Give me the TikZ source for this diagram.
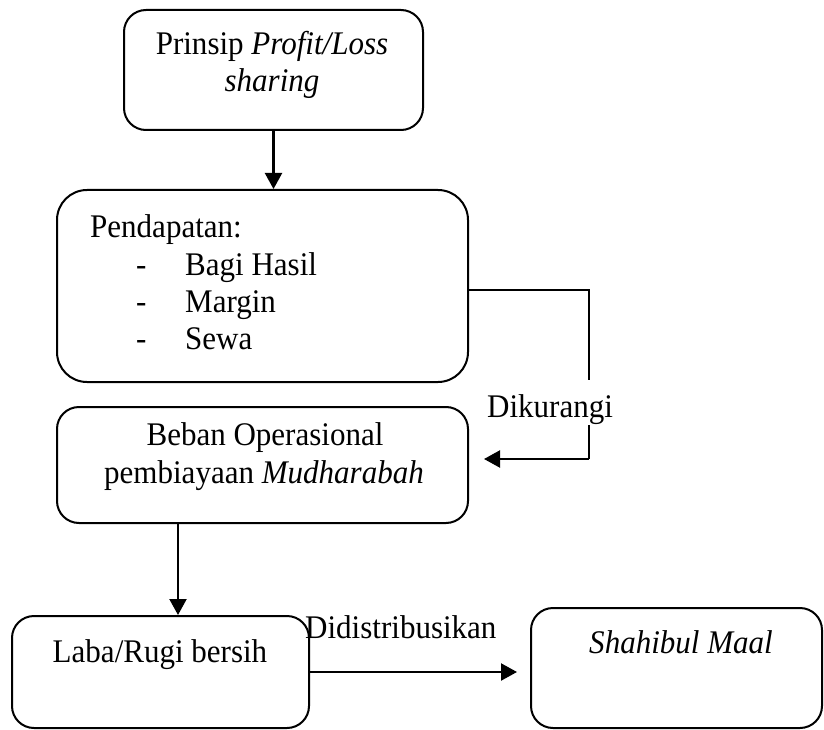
\documentclass[tikz,border=0pt]{standalone}
\usepackage{fontspec}
\setmainfont{Liberation Serif}[FakeStretch=0.94]
\usetikzlibrary{arrows.meta}
\begin{document}
\begin{tikzpicture}[x=1pt,y=-1pt,
  box/.style={draw, line width=2pt, rounded corners=22pt, inner sep=0pt},
  txt/.style={anchor=base, inner sep=0pt, font=\fontsize{33}{38}\selectfont},
  ltxt/.style={txt, anchor=base west},
  arr/.style={line width=2.2pt, -{Triangle[length=16pt,width=17pt]}},
  link/.style={line width=1.4pt}]
\useasboundingbox (0,0) rectangle (824,730);

% boxes
\node[box, minimum width=299pt, minimum height=120pt] (A) at (273.5,70) {};
\node[box, rounded corners=30pt, minimum width=411pt, minimum height=192pt] (B) at (262.5,286) {};
\node[box, minimum width=411pt, minimum height=116pt] (C) at (262.5,465) {};
\node[box, minimum width=297pt, minimum height=112pt] (D) at (160.5,672) {};
\node[box, minimum width=291pt, minimum height=120pt] (E) at (676.5,668) {};

% box texts
\node[txt] (a1) at (272,55) {Prinsip \textit{Profit/Loss}};
\node[txt] (a2) at (272,92) {\textit{sharing}};

\node[ltxt] (b0) at (90,237) {Pendapatan:};
\node[ltxt] (b1d) at (136,275) {-};
\node[ltxt] (b1) at (185,275) {Bagi Hasil};
\node[ltxt] (b2d) at (136,312) {-};
\node[ltxt] (b2) at (185,312) {Margin};
\node[ltxt] (b3d) at (136,349) {-};
\node[ltxt] (b3) at (185,349) {Sewa};

\node[txt] (c1) at (265,445) {Beban Operasional};
\node[txt] (c2) at (264,483) {pembiayaan \textit{Mudharabah}};

\node[txt] (d1) at (160,662) {Laba/Rugi bersih};
\node[txt] (e1) at (681,653) {\textit{Shahibul Maal}};

% connector labels
\node[ltxt] (kl) at (487,417) {Dikurangi};
\node[ltxt] (dl) at (305,638) {Didistribusikan};

% main flow
\draw[arr] (A.south) -- (A.south |- B.north);
\coordinate (cx) at ([xshift=-84.5pt]C.south);
\draw[arr] (cx) -- (cx |- D.north);
\coordinate (etip) at ([xshift=-13pt]E.west);
\draw[arr] (D.east) -- (D.east -| etip);

% deduction link from income to operating costs
\coordinate (kTop) at (589,380);
\coordinate (kBot) at (589,425);
\coordinate (kEnd) at (589,459);
\coordinate (ktip) at ([xshift=15pt]C.east);
\draw[link] ([yshift=-4pt]B.east) -| (kTop);
\draw[link] (kBot) -- (kEnd);
\draw[arr] (kEnd) -- (ktip |- kEnd);
\end{tikzpicture}
\end{document}
